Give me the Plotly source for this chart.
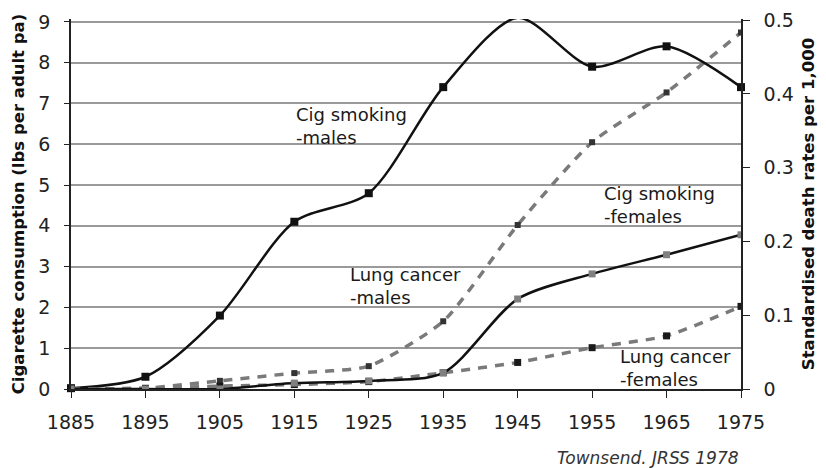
import plotly.graph_objects as go

years = [1885, 1895, 1905, 1915, 1925, 1935, 1945, 1955, 1965, 1975]

# cigarette consumption, lbs per adult per year (left axis)
cig_males = [0.02, 0.3, 1.8, 4.1, 4.8, 7.4, 9.1, 7.9, 8.4, 7.4]
cig_females = [0.0, 0.02, 0.2, 0.39, 0.56, 1.66, 4.02, 6.05, 7.27, 8.74]

# standardised death rates per 1,000 (right axis)
lung_males = [0.0, 0.0, 0.0, 0.008, 0.011, 0.022, 0.122, 0.156, 0.182, 0.209]
lung_females = [0.0, 0.001, 0.004, 0.006, 0.01, 0.022, 0.036, 0.056, 0.072, 0.112]

x_ticks = years
left_ticks = list(range(0, 10))
right_ticks = [0, 0.1, 0.2, 0.3, 0.4, 0.5]
right_labels = ["0", "0.1", "0.2", "0.3", "0.4", "0.5"]

FONT = "DejaVu Sans"
DASH = "9px,8px"

fig = go.Figure()

fig.add_trace(go.Scatter(
    x=years, y=cig_females, mode="lines+markers", name="Cig smoking - females",
    line=dict(color="#7a7a7a", width=3.5, dash=DASH, shape="spline", smoothing=0.6),
    marker=dict(symbol="square", size=6, color="#333333"),
))
fig.add_trace(go.Scatter(
    x=years, y=lung_females, mode="lines+markers", name="Lung cancer - females",
    yaxis="y2",
    line=dict(color="#7a7a7a", width=3.5, dash=DASH, shape="spline", smoothing=0.6),
    marker=dict(symbol="square", size=7, color="#1a1a1a"),
))
fig.add_trace(go.Scatter(
    x=years, y=lung_males, mode="lines+markers", name="Lung cancer - males",
    yaxis="y2",
    line=dict(color="#111111", width=2.5, shape="spline", smoothing=0.8),
    marker=dict(symbol="square", size=7, color="#808080"),
))
fig.add_trace(go.Scatter(
    x=years, y=cig_males, mode="lines+markers", name="Cig smoking - males",
    line=dict(color="#111111", width=2.5, shape="spline", smoothing=0.8),
    marker=dict(symbol="square", size=8, color="#111111"),
    cliponaxis=False,
))

labels = [
    (1915.0, 6.45, "Cig smoking<br>-males"),
    (1956.3, 4.5, "Cig smoking<br>-females"),
    (1922.2, 2.52, "Lung cancer<br>-males"),
    (1958.5, 0.52, "Lung cancer<br>-females"),
]
for lx, ly, txt in labels:
    fig.add_annotation(
        x=lx, y=ly, text=txt, showarrow=False, xanchor="left", yanchor="middle",
        align="left", font=dict(family=FONT, size=18, color="#1a1a1a"),
    )

fig.add_annotation(
    xref="paper", yref="paper", x=1.0, y=-0.186, text="<i>Townsend. JRSS 1978</i>",
    showarrow=False, xanchor="right", yanchor="middle",
    font=dict(family=FONT, size=17, color="#333333"),
)

# page body adds an 8px margin, so the figure is 8px smaller and shifted
fig.update_layout(
    width=818, height=460,
    margin=dict(l=63, r=85, t=11, b=79),
    paper_bgcolor="white", plot_bgcolor="white",
    showlegend=False,
    xaxis=dict(
        range=[1885, 1975], tickvals=x_ticks, ticks="outside", ticklen=7,
        tickcolor="#222", showline=True, linecolor="#222", linewidth=1.5,
        showgrid=False, zeroline=False, ticklabelstandoff=8, automargin=False,
        tickfont=dict(family=FONT, size=19, color="#222"),
    ),
    yaxis=dict(
        range=[0, 9.07], tickvals=left_ticks, ticks="outside", ticklen=5,
        tickcolor="#222", showline=True, linecolor="#222", linewidth=1.5,
        showgrid=True, gridcolor="#9a9a9a", gridwidth=1.5, zeroline=False,
        ticklabelstandoff=10, automargin=False,
        tickfont=dict(family=FONT, size=19, color="#222"),
        title=dict(text="<b>Cigarette consumption (lbs per adult pa)</b>", standoff=10,
                   font=dict(family=FONT, size=16.5, color="#111")),
    ),
    yaxis2=dict(
        range=[0, 0.5015], overlaying="y", side="right", tickvals=right_ticks,
        ticktext=right_labels, ticks="outside", ticklen=7, tickcolor="#222",
        showline=True, linecolor="#222", linewidth=1.5, showgrid=False,
        zeroline=False, ticklabelstandoff=10, automargin=False,
        tickfont=dict(family=FONT, size=19, color="#222"),
        title=dict(text="<b>Standardised death rates per 1,000</b>", standoff=10,
                   font=dict(family=FONT, size=16.5, color="#111")),
    ),
)

fig.write_html("out.html")
